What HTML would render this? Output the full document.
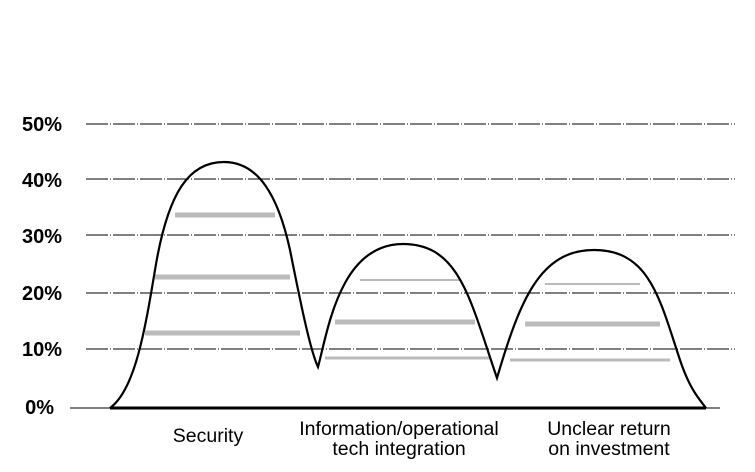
<!DOCTYPE html>
<html><head><style>body{margin:0;background:#fff}svg{display:block}</style></head><body>
<svg width="755" height="472" viewBox="0 0 755 472" xmlns="http://www.w3.org/2000/svg">
<g stroke="#000" stroke-width="1" stroke-dasharray="22 2 1 2">
<line x1="86" y1="124" x2="735" y2="124"/>
<line x1="86" y1="179" x2="735" y2="179"/>
<line x1="86" y1="235" x2="735" y2="235"/>
<line x1="86" y1="293" x2="735" y2="293"/>
<line x1="86" y1="349" x2="735" y2="349"/>
</g>
<g stroke="#bbb" stroke-width="5">
<line x1="175" y1="215" x2="275" y2="215"/>
<line x1="155" y1="277" x2="290" y2="277"/>
<line x1="145" y1="333" x2="300" y2="333"/>
<line x1="360" y1="280" x2="460" y2="280" stroke-width="2"/>
<line x1="335" y1="322" x2="475" y2="322"/>
<line x1="325" y1="358" x2="490" y2="358" stroke-width="3"/>
<line x1="545" y1="284" x2="640" y2="284" stroke-width="2"/>
<line x1="525" y1="324" x2="660" y2="324"/>
<line x1="510" y1="360" x2="670" y2="360" stroke-width="3"/>
</g>
<line x1="70" y1="408" x2="720" y2="408" stroke="#000" stroke-width="1"/>
<line x1="110" y1="408" x2="706" y2="408" stroke="#000" stroke-width="3"/>
<path d="M110,408 C135,390 145,330 155,270 C168,190 190,162 224,162 C258,162 278,195 290,250 C300,300 310,350 318,367 C328,330 340,244 403,244 C460,244 470,300 497,378 C520,300 540,250 594,250 C650,250 660,300 680,360 C690,390 700,400 706,408" fill="none" stroke="#000" stroke-width="2.2"/>
<g font-family="Liberation Sans, sans-serif" font-weight="bold" font-size="20" text-anchor="end">
<text x="62" y="131">50%</text>
<text x="62" y="187">40%</text>
<text x="62" y="243">30%</text>
<text x="62" y="300">20%</text>
<text x="62" y="356">10%</text>
<text x="54" y="414">0%</text>
</g>
<g font-family="Liberation Sans, sans-serif" font-size="19.5" text-anchor="middle">
<text x="208" y="442">Security</text>
<text x="399" y="435">Information/operational</text>
<text x="399" y="455">tech integration</text>
<text x="609" y="435">Unclear return</text>
<text x="609" y="455">on investment</text>
</g>
</svg>
</body></html>
